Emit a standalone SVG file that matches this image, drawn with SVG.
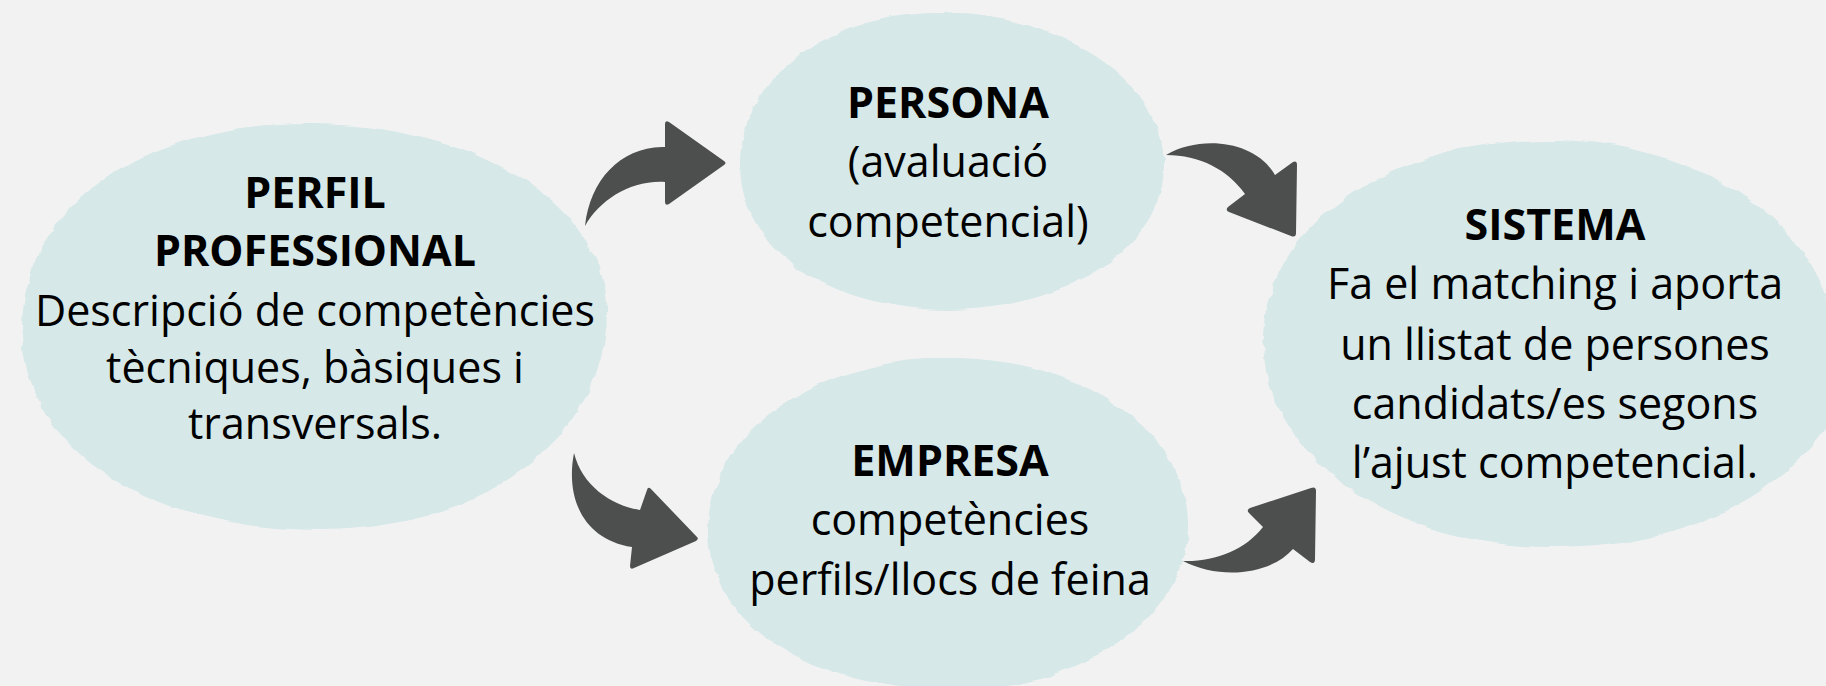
<svg xmlns="http://www.w3.org/2000/svg" width="1826" height="686" viewBox="0 0 1826 686">
<defs>
<filter id="rough" x="-5%" y="-5%" width="110%" height="110%">
<feTurbulence type="fractalNoise" baseFrequency="0.012 0.09" numOctaves="2" seed="7" result="n"/>
<feDisplacementMap in="SourceGraphic" in2="n" scale="6" xChannelSelector="R" yChannelSelector="G"/>
</filter>
<style>
.blob{fill:#d6e8e8;filter:url(#rough)}
.arrow{fill:#4d4f4e}
text{font-family:"Open Sans","Liberation Sans",sans-serif;font-size:43px;fill:#000;text-anchor:middle}
.b{font-weight:700;font-size:43px}
</style>
</defs>
<rect width="1826" height="686" fill="#f2f2f2"/>
<g id="perfil">
<path class="blob" d="M22,330 C22,200 150,123 310,123 C480,123 607,210 607,310 C607,440 480,530 320,530 C150,530 22,450 22,330 Z"/>
<text class="b" x="315" y="208">PERFIL</text>
<text class="b" x="315" y="266">PROFESSIONAL</text>
<text x="315" y="326">Descripció de competències</text>
<text x="315" y="383">tècniques, bàsiques i</text>
<text x="315" y="439">transversals.</text>
</g>
<g id="persona">
<path class="blob" d="M740,165 C740,70 840,13 940,13 C1060,13 1164,80 1164,165 C1164,250 1060,310 950,310 C830,310 740,250 740,165 Z"/>
<text class="b" x="948" y="118">PERSONA</text>
<text x="948" y="177">(avaluació</text>
<text x="948" y="237">competencial)</text>
</g>
<g id="empresa">
<path class="blob" d="M708,530 C708,430 820,358 950,358 C1080,358 1188,430 1188,525 C1188,620 1080,690 950,690 C820,690 708,630 708,530 Z"/>
<text class="b" x="950" y="476">EMPRESA</text>
<text x="950" y="535">competències</text>
<text x="950" y="595">perfils/llocs de feina</text>
</g>
<g id="sistema">
<path class="blob" d="M1263,340 C1263,220 1400,140 1550,140 C1700,140 1830,230 1830,330 L1830,420 C1780,500 1680,547 1550,547 C1400,547 1263,460 1263,340 Z"/>
<text class="b" x="1555" y="240">SISTEMA</text>
<text x="1555" y="299">Fa el matching i aporta</text>
<text x="1555" y="360">un llistat de persones</text>
<text x="1555" y="419">candidats/es segons</text>
<text x="1555" y="478">l’ajust competencial.</text>
</g>
<g id="connectors">
<path class="arrow" d="M585,226 C590,180 620,148 662,147 L665,147 L665,124 Q665,120 669,122 L724,161 Q727,163 724,165 L669,204 Q665,206 665,202 L665,182 C630,180 600,200 585,226 Z"/>
<path class="arrow" d="M1166,155 C1200,135 1255,140 1275,175 L1293,162 Q1297,160 1297,165 L1296,233 Q1296,238 1291,236 L1229,212 Q1225,210 1228,207 L1245,194 C1228,170 1200,155 1166,155 Z"/>
<path class="arrow" d="M574,453 C565,500 585,540 632,547 L630,566 Q630,570 634,568 L696,541 Q699,539 697,537 L651,489 Q648,486 647,490 L640,510 C610,505 582,485 574,453 Z"/>
<path class="arrow" d="M1183,561 C1220,580 1270,575 1293,549 L1310,562 Q1315,565 1315,559 L1316,491 Q1316,486 1311,488 L1250,508 Q1246,510 1249,513 L1263,527 C1245,550 1215,562 1183,561 Z"/>
</g>
</svg>
